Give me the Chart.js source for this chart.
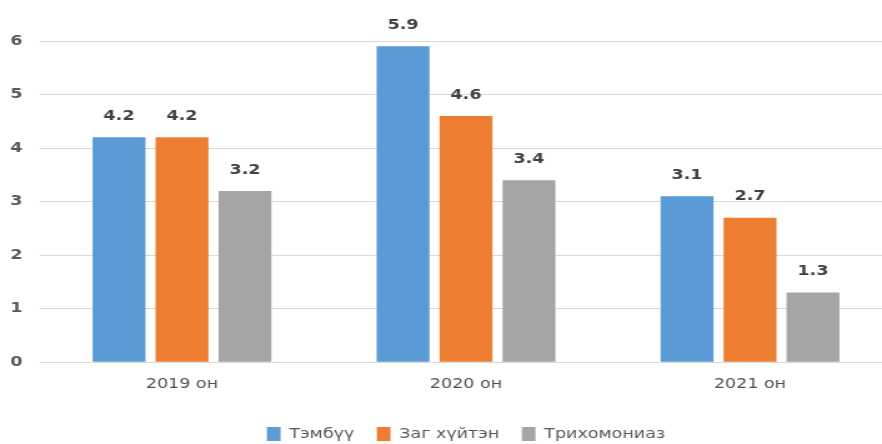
<!DOCTYPE html>
<html>
<head>
<meta charset="utf-8">
<script src="https://cdn.jsdelivr.net/npm/chart.js@4/dist/chart.umd.min.js"></script>
<style>
  html, body { margin: 0; padding: 0; background: #fff; overflow: hidden; }
  #wrap { width: 882px; height: 444px; position: relative; overflow: hidden; }
  /* drawn narrow and stretched sideways, like the wide lettering of the original */
  #chart { width: 892px; height: 453px; }
</style>
</head>
<body>
<div id="wrap"><canvas id="chart" width="714" height="453" style="width:892px;height:453px"></canvas></div>
<script>
const years = ['2019 он', '2020 он', '2021 он'];
const tembuu = [4.2, 5.9, 3.1];
const zag = [4.2, 4.6, 2.7];
const trikh = [3.2, 3.4, 1.3];

Chart.defaults.font.family = "'DejaVu Sans', sans-serif";
Chart.defaults.color = '#595959';

// value labels above the bars
const barLabels = {
  id: 'barLabels',
  afterDatasetsDraw(chart) {
    const ctx = chart.ctx;
    ctx.save();
    ctx.font = "bold 14px 'DejaVu Sans', sans-serif";
    ctx.fillStyle = '#404040';
    ctx.textAlign = 'center';
    ctx.textBaseline = 'middle';
    chart.data.datasets.forEach((ds, i) => {
      chart.getDatasetMeta(i).data.forEach((bar, j) => {
        ctx.fillText(ds.data[j].toFixed(1), bar.x, bar.y - 21);
      });
    });
    ctx.restore();
  }
};

new Chart(document.getElementById('chart'), {
  type: 'bar',
  data: {
    labels: years,
    datasets: [
      { label: 'Тэмбүү', data: tembuu, backgroundColor: '#5B9BD5' },
      { label: 'Заг хүйтэн', data: zag, backgroundColor: '#ED7D31' },
      { label: 'Трихомониаз', data: trikh, backgroundColor: '#A5A5A5' }
    ]
  },
  options: {
    responsive: false, animation: false, devicePixelRatio: 1,
    barPercentage: 0.84, categoryPercentage: 0.665,
    layout: { padding: { top: 41, left: 0, right: 0, bottom: 2 } },
    plugins: {
      legend: { position: 'bottom', fullSize: false,
        labels: { boxWidth: 11, boxHeight: 14, padding: 18, font: { size: 14 }, color: '#595959' } },
      tooltip: { enabled: false }
    },
    scales: {
      x: { grid: { display: false }, border: { display: false },
           afterFit: s => { s.height += 10; },
           ticks: { font: { size: 14 }, padding: 6, color: '#505050' } },
      y: { min: 0, max: 6, grid: { color: '#d9d9d9', drawTicks: false }, border: { display: false },
           afterFit: s => { s.width = 32; },
           ticks: { stepSize: 1, font: { size: 14, weight: 'bold' }, padding: 14, color: '#595959' } }
    }
  },
  plugins: [barLabels]
});
</script>
</body>
</html>
